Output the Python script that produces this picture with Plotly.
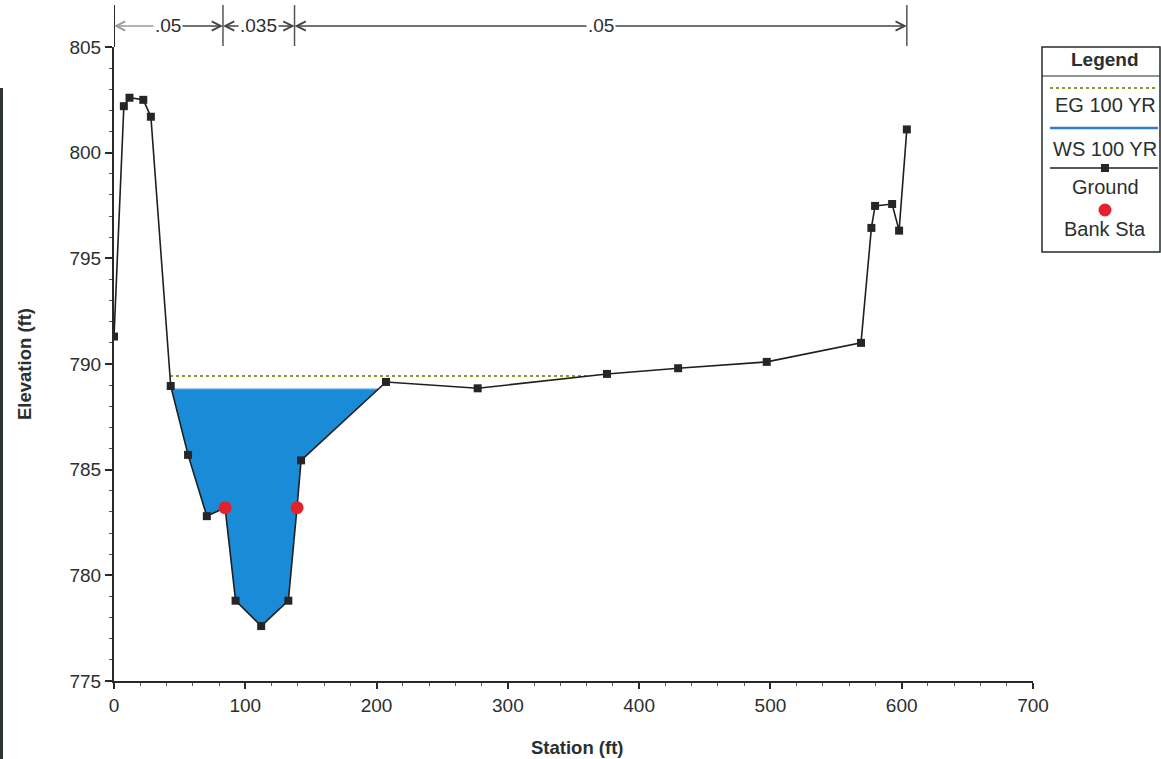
import plotly.graph_objects as go

# ---- cross-section data -------------------------------------------------
station = [0.0, 7.5, 11.8, 22.3, 28.1, 43.2, 56.4, 70.7, 84.6, 92.6, 112.1,
           132.8, 139.4, 142.5, 207.2, 277.0, 375.5, 429.7, 497.2, 569.0,
           576.9, 579.7, 592.7, 598.0, 603.9]
elevation = [791.3, 802.2, 802.6, 802.5, 801.7, 788.96, 785.7, 782.8, 783.2,
             778.8, 777.6, 778.8, 783.2, 785.44, 789.15, 788.85, 789.53,
             789.8, 790.1, 791.0, 796.44, 797.48, 797.57, 796.31, 801.1]
bank_station = [84.6, 139.4]
bank_elevation = [783.2, 783.2]
ws_elevation = 788.8      # WS 100 YR
eg_elevation = 789.43     # EG 100 YR
n_break_station = [0.0, 83.0, 137.5, 603.9]
n_values = [".05", ".035", ".05"]
x_tick_values = [0, 100, 200, 300, 400, 500, 600, 700]
y_tick_values = [775, 780, 785, 790, 795, 800, 805]

# ---- page geometry ------------------------------------------------------
W, H = 1161, 759
ML, MR, MT, MB = 114, 128, 47, 78
PW, PH = W - ML - MR, H - MT - MB
FONT = "Liberation Sans, Arial, sans-serif"
TXT = "#2b2f2f"
AX = "#262a2a"


def px(p):
    """page pixel column -> paper x"""
    return (p - ML) / PW


def py(p):
    """page pixel row -> paper y"""
    return (H - MB - p) / PH


def level_crossings(xs, zs, level):
    out = []
    for i in range(len(xs) - 1):
        a, b = zs[i] - level, zs[i + 1] - level
        if a == 0:
            out.append(xs[i])
        elif a * b < 0:
            out.append(xs[i] + (xs[i + 1] - xs[i]) * a / (a - b))
    return out


# water surface polygon between the ground crossings
ws_x = level_crossings(station, elevation, ws_elevation)
xl, xr = ws_x[0], ws_x[-1]
inner = [(s, z) for s, z in zip(station, elevation) if xl < s < xr]
fill_x = [xl] + [s for s, _ in inner] + [xr, xl]
fill_y = [ws_elevation] + [z for _, z in inner] + [ws_elevation, ws_elevation]

eg_x = level_crossings(station, elevation, eg_elevation)

fig = go.Figure()
fig.add_trace(go.Scatter(x=fill_x, y=fill_y, mode="lines", fill="toself",
                         fillcolor="#1a8bd6", line=dict(width=0),
                         hoverinfo="skip", showlegend=False))
fig.add_trace(go.Scatter(x=[xl, xr], y=[ws_elevation, ws_elevation],
                         mode="lines", line=dict(color="#4a98de", width=1.5),
                         name="WS 100 YR", showlegend=False))
fig.add_trace(go.Scatter(x=[eg_x[0], eg_x[-1]], y=[eg_elevation, eg_elevation],
                         mode="lines",
                         line=dict(color="#7d9d35", width=2, dash="dot"),
                         name="EG 100 YR", showlegend=False))
fig.add_trace(go.Scatter(x=station, y=elevation, mode="lines+markers",
                         line=dict(color="#1f1f1f", width=1.6),
                         marker=dict(symbol="square", size=8, color="#262626"),
                         name="Ground", showlegend=False))
fig.add_trace(go.Scatter(x=bank_station, y=bank_elevation, mode="markers",
                         marker=dict(symbol="circle", size=13, color="#e3232b"),
                         name="Bank Sta", showlegend=False))

shapes = []
annotations = []

# Manning's n bracket above the plot
band_y = py(26)
for i, s in enumerate(n_break_station):
    shapes.append(dict(type="line", xref="x", yref="paper",
                       x0=s, x1=s, y0=py(46) if i else 1.0, y1=py(5),
                       line=dict(color=AX if i == 0 else "#555555",
                                 width=2 if i == 0 else 1.5)))
for i, label in enumerate(n_values):
    a, b = n_break_station[i], n_break_station[i + 1]
    mid = (a + b) / 2
    for end in (a, b):
        annotations.append(dict(xref="x", yref="paper", x=end, y=band_y,
                                axref="x", ax=mid, ayref="pixel", ay=0,
                                text="", showarrow=True, arrowhead=5,
                                arrowsize=1.4, arrowwidth=1.3, standoff=0,
                                arrowcolor="#9a9a9a" if end == 0 else "#444444"))
    annotations.append(dict(xref="x", yref="paper", x=mid, y=band_y,
                            text=label, showarrow=False, bgcolor="white",
                            borderpad=1, xanchor="center", yanchor="middle",
                            font=dict(family=FONT, size=19, color=TXT)))

# axis titles
annotations.append(dict(xref="paper", yref="paper", x=px(577), y=py(747),
                        text="<b>Station (ft)</b>", showarrow=False,
                        xanchor="center", yanchor="middle",
                        font=dict(family=FONT, size=18.5, color=TXT)))
annotations.append(dict(xref="paper", yref="paper", x=px(24), y=py(364),
                        text="<b>Elevation (ft)</b>", showarrow=False,
                        textangle=-90, xanchor="center", yanchor="middle",
                        font=dict(family=FONT, size=18.5, color=TXT)))

# scanned page edge on the left
shapes.append(dict(type="rect", xref="paper", yref="paper", layer="above",
                   x0=px(0), x1=px(3), y0=py(759), y1=py(88),
                   line=dict(width=0), fillcolor="#2f3535"))

# legend box
LX0, LX1 = 1042, 1160
LC = 1105
shapes.append(dict(type="rect", xref="paper", yref="paper",
                   x0=px(LX0), x1=px(LX1), y0=py(252), y1=py(47),
                   line=dict(color=AX, width=1.5), fillcolor="white"))
shapes.append(dict(type="line", xref="paper", yref="paper",
                   x0=px(LX0), x1=px(LX1), y0=py(76), y1=py(76),
                   line=dict(color=AX, width=1.2)))
shapes.append(dict(type="line", xref="paper", yref="paper",
                   x0=px(1050), x1=px(1158), y0=py(88), y1=py(88),
                   line=dict(color="#7d9d35", width=2, dash="dot")))
shapes.append(dict(type="line", xref="paper", yref="paper",
                   x0=px(1050), x1=px(1158), y0=py(128), y1=py(128),
                   line=dict(color="#2f7fd6", width=2.5)))
shapes.append(dict(type="line", xref="paper", yref="paper",
                   x0=px(1050), x1=px(1158), y0=py(168), y1=py(168),
                   line=dict(color="#1f1f1f", width=1.6)))
shapes.append(dict(type="rect", xref="paper", yref="paper",
                   x0=px(LC - 4), x1=px(LC + 4), y0=py(172), y1=py(164),
                   line=dict(width=0), fillcolor="#262626"))
shapes.append(dict(type="circle", xref="paper", yref="paper",
                   x0=px(LC - 6.5), x1=px(LC + 6.5), y0=py(216.5), y1=py(203.5),
                   line=dict(width=0), fillcolor="#e3232b"))

legend_text = [("<b>Legend</b>", 59, 19), ("EG 100 YR", 105, 20),
               ("WS 100 YR", 149, 20), ("Ground", 187, 20),
               ("Bank Sta", 229, 20)]
for text, row, size in legend_text:
    annotations.append(dict(xref="paper", yref="paper", x=px(LC), y=py(row),
                            text=text, showarrow=False, xanchor="center",
                            yanchor="middle",
                            font=dict(family=FONT, size=size, color=TXT)))

axis_common = dict(showline=True, linecolor=AX, linewidth=2, ticks="outside",
                   tickcolor=AX, tickwidth=1.5, showgrid=False, zeroline=False,
                   tickfont=dict(family=FONT, size=19, color=TXT),
                   fixedrange=True)

fig.update_layout(
    width=W, height=H,
    margin=dict(l=ML, r=MR, t=MT, b=MB, pad=0),
    paper_bgcolor="white", plot_bgcolor="white",
    showlegend=False,
    xaxis=dict(range=[0, 700], tickmode="array", tickvals=x_tick_values,
               ticklen=6,
               minor=dict(tickmode="linear", tick0=0, dtick=20,
                          ticks="outside", ticklen=3, tickcolor="#555555",
                          tickwidth=1),
               **axis_common),
    yaxis=dict(range=[775, 805], tickmode="array", tickvals=y_tick_values,
               ticklen=7,
               minor=dict(tickmode="linear", tick0=775, dtick=1,
                          ticks="outside", ticklen=3, tickcolor="#555555",
                          tickwidth=1),
               **axis_common),
    shapes=shapes,
    annotations=annotations,
)

fig.write_html("out.html")
